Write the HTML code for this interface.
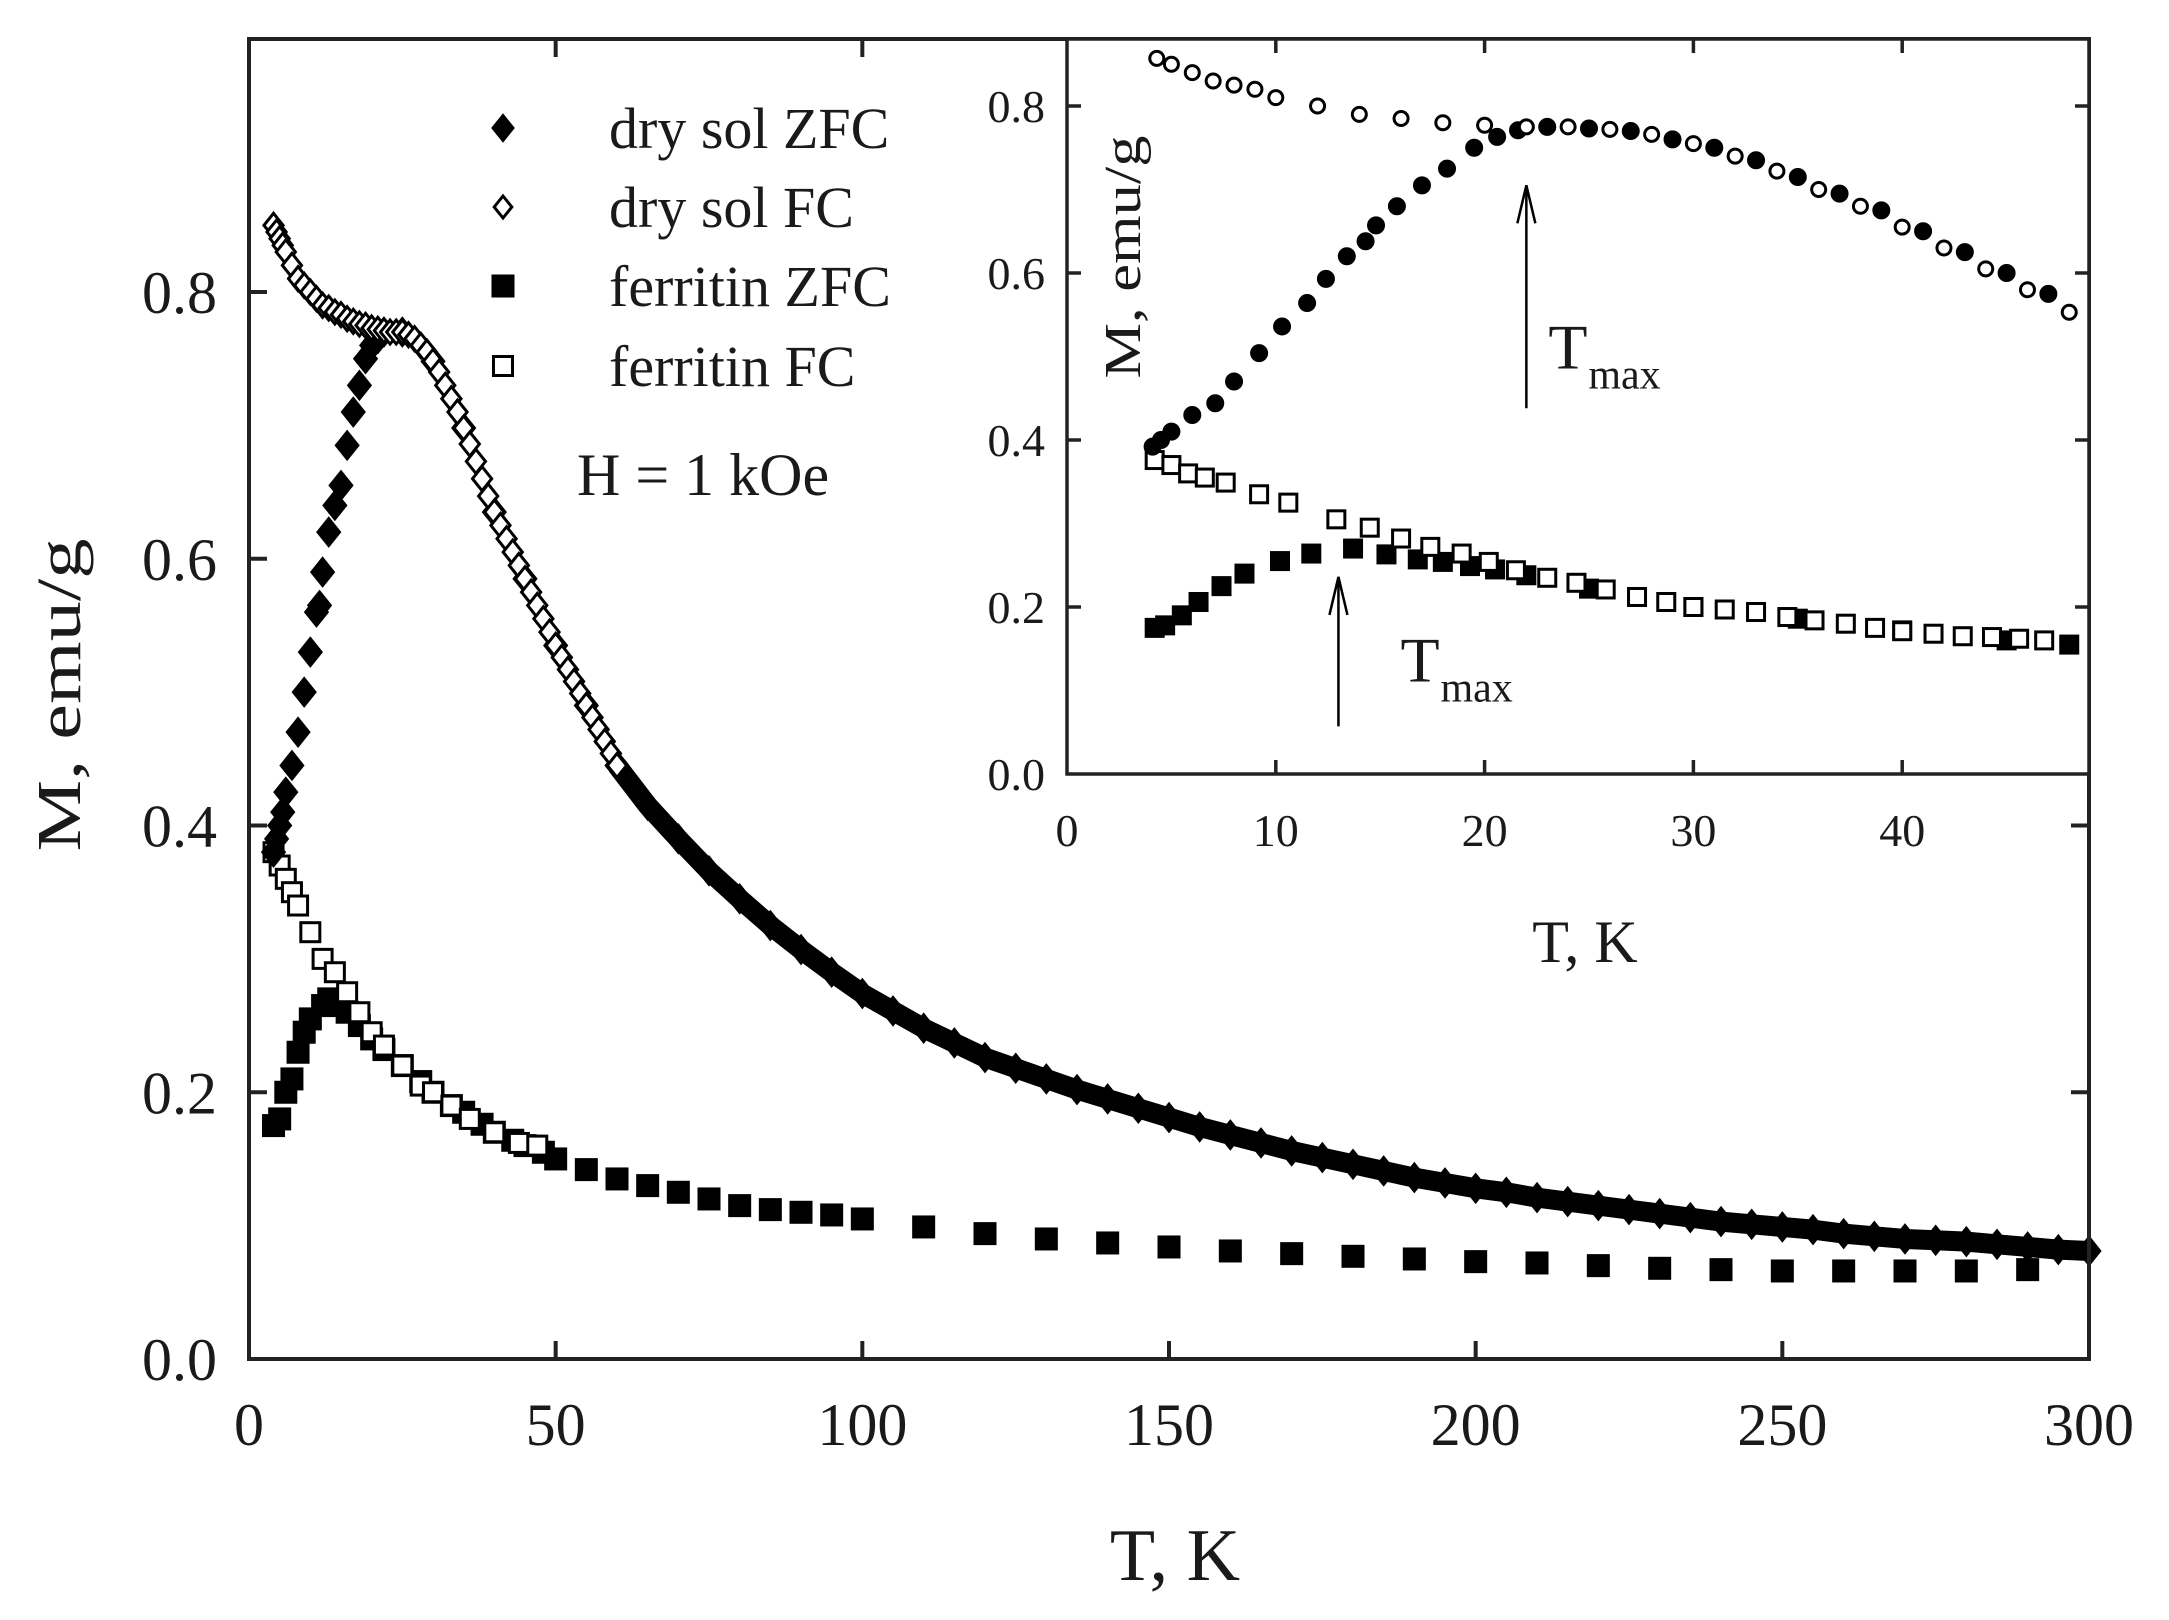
<!DOCTYPE html>
<html><head><meta charset="utf-8"><style>
html,body{margin:0;padding:0;background:#fff}
svg{display:block}
text{font-family:"Liberation Serif",serif;fill:#1a1a1a}
</style></head><body>
<svg id="chart" width="2169" height="1620" viewBox="0 0 2169 1620" xmlns="http://www.w3.org/2000/svg">
<g id="main"></g>
<g id="inset"></g>
</svg>
<script>
// ---- main plot data ----
const mainXTicks = [0, 50, 100, 150, 200, 250, 300];
const mainYTicks = [0.0, 0.2, 0.4, 0.6, 0.8];
const mainYTickLabels = ["0.0", "0.2", "0.4", "0.6", "0.8"];
const drySolZfcT = [4,4.5,5,5.5,6,7,8,9,10,11,11.5,12,13,14,15,16,17,18,19,20,21,22,25,30,35,40,45,50,55,60,65,70,75,80,85,90,95,100,105,110,115,120,125,130,135,140,145,150,155,160,165,170,175,180,185,190,195,200,205,210,215,220,225,230,235,240,245,250,255,260,265,270,275,280,285,290,295,300];
const drySolZfcM = [0.38,0.39,0.40,0.41,0.425,0.445,0.47,0.50,0.53,0.56,0.565,0.59,0.62,0.64,0.655,0.685,0.71,0.73,0.75,0.76,0.765,0.77,0.77,0.748,0.698,0.635,0.585,0.535,0.49,0.445,0.415,0.39,0.366,0.345,0.325,0.307,0.29,0.274,0.261,0.248,0.237,0.226,0.218,0.21,0.202,0.195,0.188,0.181,0.174,0.168,0.162,0.156,0.151,0.146,0.141,0.136,0.132,0.128,0.125,0.121,0.118,0.115,0.112,0.109,0.106,0.103,0.101,0.099,0.097,0.094,0.092,0.09,0.089,0.088,0.086,0.084,0.082,0.081];
const drySolFcT = [4,4.5,5,5.5,6,7,8,9,10,11,12,13,14,15,16,17,18,19,20,21,22,23,24,25,26,27,28,29,30,31,32,33,34,35,36,37,38,39,40,41,42,43,44,45,46,47,48,49,50,51,52,53,54,55,56,57,58,59,60];
const drySolFcM = [0.85,0.845,0.84,0.835,0.83,0.82,0.81,0.805,0.80,0.795,0.79,0.788,0.785,0.783,0.78,0.778,0.776,0.775,0.773,0.772,0.771,0.77,0.77,0.77,0.768,0.765,0.76,0.755,0.748,0.74,0.73,0.72,0.71,0.698,0.686,0.673,0.66,0.647,0.635,0.625,0.615,0.605,0.595,0.585,0.575,0.565,0.555,0.545,0.535,0.526,0.517,0.508,0.499,0.49,0.481,0.472,0.463,0.454,0.445];
const ferZfcT = [4,5,6,7,8,9,10,12,13,14,16,18,20,22,25,28,30,33,35,38,40,43,45,48,50,55,60,65,70,75,80,85,90,95,100,110,120,130,140,150,160,170,180,190,200,210,220,230,240,250,260,270,280,290];
const ferZfcM = [0.175,0.18,0.20,0.21,0.23,0.245,0.255,0.265,0.27,0.265,0.26,0.25,0.24,0.232,0.22,0.208,0.20,0.19,0.185,0.176,0.17,0.164,0.16,0.155,0.15,0.142,0.135,0.13,0.125,0.12,0.115,0.112,0.11,0.108,0.105,0.099,0.094,0.09,0.087,0.084,0.081,0.079,0.077,0.075,0.073,0.072,0.07,0.068,0.067,0.066,0.066,0.066,0.066,0.067];
const ferFcT = [4,5,6,7,8,10,12,14,16,18,20,22,25,28,30,33,36,40,44,47];
const ferFcM = [0.38,0.37,0.36,0.35,0.34,0.32,0.30,0.29,0.275,0.26,0.245,0.235,0.22,0.205,0.20,0.19,0.18,0.17,0.162,0.16];

// ---- inset data ----
const insetXTicks = [0, 10, 20, 30, 40];
const insetYTicks = [0.0, 0.2, 0.4, 0.6, 0.8];
const insetYTickLabels = ["0.0", "0.2", "0.4", "0.6", "0.8"];
const inDryFcT = [4.3,5,6,7,8,9,10,12,14,16,18,20,22,24,26,28,30,32,34,36,38,40,42,44,46,48];
const inDryFcM = [0.857,0.85,0.84,0.83,0.825,0.82,0.81,0.80,0.79,0.785,0.78,0.777,0.775,0.775,0.772,0.766,0.755,0.74,0.722,0.70,0.68,0.655,0.63,0.605,0.58,0.553];
const inDryZfcT = [4.1,4.5,5,6,7.1,8,9.2,10.3,11.5,12.4,13.4,14.3,14.8,15.8,17,18.2,19.5,20.6,21.6,23,25,27,29,31,33,35,37,39,41,43,45,47];
const inDryZfcM = [0.392,0.40,0.41,0.43,0.444,0.47,0.504,0.536,0.564,0.593,0.62,0.638,0.657,0.68,0.705,0.725,0.75,0.763,0.771,0.775,0.773,0.77,0.76,0.75,0.735,0.715,0.695,0.675,0.65,0.625,0.60,0.575];
const inFerFcT = [4.2,5,5.8,6.6,7.6,9.2,10.6,12.9,14.5,16,17.4,18.9,20.2,21.5,23,24.4,25.8,27.3,28.7,30,31.5,33,34.5,35.8,37.3,38.7,40,41.5,42.9,44.3,45.6,46.8];
const inFerFcM = [0.376,0.37,0.36,0.355,0.349,0.335,0.325,0.305,0.295,0.282,0.272,0.264,0.254,0.244,0.235,0.229,0.221,0.212,0.206,0.2,0.197,0.194,0.188,0.184,0.18,0.175,0.171,0.168,0.165,0.164,0.162,0.16];
const inFerZfcT = [4.2,4.7,5.5,6.3,7.4,8.5,10.2,11.7,13.7,15.3,16.8,18,19.3,20.5,22,25,30,35,40,45,48];
const inFerZfcM = [0.175,0.178,0.19,0.206,0.225,0.24,0.255,0.264,0.27,0.263,0.257,0.254,0.249,0.245,0.238,0.222,0.2,0.186,0.172,0.16,0.155];
const arrowT = [22, 13];
const arrowFrom = [0.438, 0.057];
const arrowTo = [0.705, 0.236];

const NS = "http://www.w3.org/2000/svg";
function mk(tag, attrs, parent){ const e=document.createElementNS(NS,tag); for(const k in attrs) e.setAttribute(k,attrs[k]); parent.appendChild(e); return e; }

const M = {x0:249, x1:2089, y0:1359, y1:39, tmax:300, mmaxPx:1333.75};
const mx = t => M.x0 + t*(M.x1-M.x0)/M.tmax;
const my = v => M.y0 - v*M.mmaxPx;
const I = {x0:1067, x1:2089, y0:774, y1:39, pxK:20.88, pxM:835};
const ix = t => I.x0 + t*I.pxK;
const iy = v => I.y0 - v*I.pxM;

const gm = document.getElementById('main');
const gi = document.getElementById('inset');

function diamond(g,cx,cy,r,filled,sw){
  return mk('polygon',{points:`${cx},${cy-r} ${cx+r*0.8},${cy} ${cx},${cy+r} ${cx-r*0.8},${cy}`, fill: filled?'#000':'#fff', stroke:'#000','stroke-width':sw}, g);
}
function square(g,cx,cy,s,filled,sw){
  return mk('rect',{x:cx-s/2,y:cy-s/2,width:s,height:s,fill:filled?'#000':'#fff',stroke:'#000','stroke-width':sw},g);
}
function circle(g,cx,cy,r,filled,sw){
  return mk('circle',{cx:cx,cy:cy,r:r,fill:filled?'#000':'#fff',stroke:'#000','stroke-width':sw},g);
}

// ---- main series ----
let s = mk('g',{},gm);
 
ferZfcT.forEach((t,i)=>{ const e=square(s,mx(t),my(ferZfcM[i]),21,true,2);
  
   });
s = mk('g',{},gm);
 
ferFcT.forEach((t,i)=>{ const e=square(s,mx(t),my(ferFcM[i]),19,false,3);
  
   });
s = mk('g',{},gm);
 
const band = drySolZfcT.map((t,i)=>`${mx(t)},${my(drySolZfcM[i])}`).filter((p,i)=>drySolZfcT[i]>=60).join(' ');
const bl = mk('polyline',{points:band,fill:'none',stroke:'#000','stroke-width':20,'stroke-linejoin':'round'},s);


drySolZfcT.forEach((t,i)=>{ const e=diamond(s,mx(t),my(drySolZfcM[i]),15,true,1);
  
   });
s = mk('g',{},gm);
 
drySolFcT.forEach((t,i)=>{ const e=diamond(s,mx(t),my(drySolFcM[i]),12,false,3);
  
   });

let fr = mk('rect',{x:M.x0,y:M.y1,width:M.x1-M.x0,height:M.y0-M.y1,fill:'none',stroke:'#222','stroke-width':4},gm);
 
mainXTicks.forEach((t,i)=>{
  let tk = mk('line',{x1:mx(t),x2:mx(t),y1:M.y0,y2:M.y0-18,stroke:'#222','stroke-width':4},gm);
   
  if (mx(t) < I.x0 && t>0){ let t2 = mk('line',{x1:mx(t),x2:mx(t),y1:M.y1,y2:M.y1+18,stroke:'#222','stroke-width':4},gm);
      }
  let tl = mk('text',{x:mx(t),y:1445,'font-size':60,'text-anchor':'middle'},gm);
  tl.textContent = String(t);
   
});
mainYTicks.forEach((v,i)=>{
  let tk = mk('line',{x1:M.x0,x2:M.x0+18,y1:my(v),y2:my(v),stroke:'#222','stroke-width':4},gm);
   
  if (my(v) > I.y0 && v>0){ let t2 = mk('line',{x1:M.x1,x2:M.x1-18,y1:my(v),y2:my(v),stroke:'#222','stroke-width':4},gm);
      }
  let tl = mk('text',{x:217,y:my(v)+21,'font-size':60,'text-anchor':'end'},gm);
  tl.textContent = mainYTickLabels[i];
   
});
let xt = mk('text',{x:1175,y:1580,'font-size':74,'text-anchor':'middle'},gm);
xt.textContent='T, K';  
let yt = mk('text',{x:0,y:0,'font-size':62,'text-anchor':'middle',transform:'translate(80,695) rotate(-90)',textLength:313,lengthAdjust:'spacingAndGlyphs'},gm);
yt.textContent='M, emu/g';  

const lg = mk('g',{},gm);
 
const legendLabels = ['dry sol ZFC','dry sol FC','ferritin ZFC','ferritin FC'];
const legendY = [128,207,286,366];
legendLabels.forEach((lab,i)=>{
  const cy = legendY[i], cx=503;
  let m;
  if(i===0) m=diamond(lg,cx,cy,14,true,1);
  else if(i===1) m=diamond(lg,cx,cy,11,false,3);
  else if(i===2) m=square(lg,cx,cy,21,true,2);
  else m=square(lg,cx,cy,19,false,3);
  
  
  const t = mk('text',{x:609,y:cy+20,'font-size':58},lg);
  t.textContent=lab;
  
  
});
let ht = mk('text',{x:577,y:495,'font-size':60},gm);
ht.textContent='H = 1 kOe';  

// ---- inset ----
let ib = mk('rect',{x:I.x0,y:I.y1,width:I.x1-I.x0,height:I.y0-I.y1,fill:'#fff',stroke:'#222','stroke-width':3.5},gi);
 
s = mk('g',{},gi);
 
inFerZfcT.forEach((t,i)=>{ const e=square(s,ix(t),iy(inFerZfcM[i]),18,true,2);
  
   });
s = mk('g',{},gi);
 
inFerFcT.forEach((t,i)=>{ const e=square(s,ix(t),iy(inFerFcM[i]),17,false,3);
  
   });
s = mk('g',{},gi);
 
inDryZfcT.forEach((t,i)=>{ const e=circle(s,ix(t),iy(inDryZfcM[i]),8.5,true,1);
  
   });
s = mk('g',{},gi);
 
inDryFcT.forEach((t,i)=>{ const e=circle(s,ix(t),iy(inDryFcM[i]),7,false,3);
  
   });
insetXTicks.forEach(t=>{
  if(t>0){
    let a = mk('line',{x1:ix(t),x2:ix(t),y1:I.y0,y2:I.y0-14,stroke:'#222','stroke-width':3.5},gi);
     
    let b = mk('line',{x1:ix(t),x2:ix(t),y1:I.y1,y2:I.y1+14,stroke:'#222','stroke-width':3.5},gi);
     
  }
  let l = mk('text',{x:ix(t),y:846,'font-size':46,'text-anchor':'middle'},gi);
  l.textContent=String(t);  
});
insetYTicks.forEach((v,i)=>{
  if(v>0){
    let a = mk('line',{x1:I.x0,x2:I.x0+14,y1:iy(v),y2:iy(v),stroke:'#222','stroke-width':3.5},gi);
     
    let b = mk('line',{x1:I.x1,x2:I.x1-14,y1:iy(v),y2:iy(v),stroke:'#222','stroke-width':3.5},gi);
     
  }
  let l = mk('text',{x:1045,y:iy(v)+16,'font-size':46,'text-anchor':'end'},gi);
  l.textContent=insetYTickLabels[i];  
});
let ixt = mk('text',{x:1585,y:962,'font-size':60,'text-anchor':'middle'},gi);
ixt.textContent='T, K';  
let iyt = mk('text',{x:0,y:0,'font-size':52,'text-anchor':'middle',transform:'translate(1140,257) rotate(-90)',textLength:243,lengthAdjust:'spacingAndGlyphs'},gi);
iyt.textContent='M, emu/g';  
arrowT.forEach((t,i)=>{
  const x=ix(t), ya=iy(arrowFrom[i]), yb=iy(arrowTo[i]);
  let ln = mk('line',{x1:x,x2:x,y1:ya,y2:yb,stroke:'#000','stroke-width':2.5},gi);
   
  let hd = mk('path',{d:`M${x-9},${yb+38} L${x},${yb} L${x+9},${yb+38}`,fill:'none',stroke:'#000','stroke-width':2.5},gi);
   
  const tx = x + (i===0 ? 22 : 62), ty = ya - (i===0 ? 40 : 45);
  let tl = mk('text',{x:tx,y:ty,'font-size':64},gi);
  tl.textContent='T';
   
  let sb = mk('text',{x:tx+40,y:ty+20,'font-size':42},gi);
  sb.textContent='max';
   
});
</script>
</body></html>
